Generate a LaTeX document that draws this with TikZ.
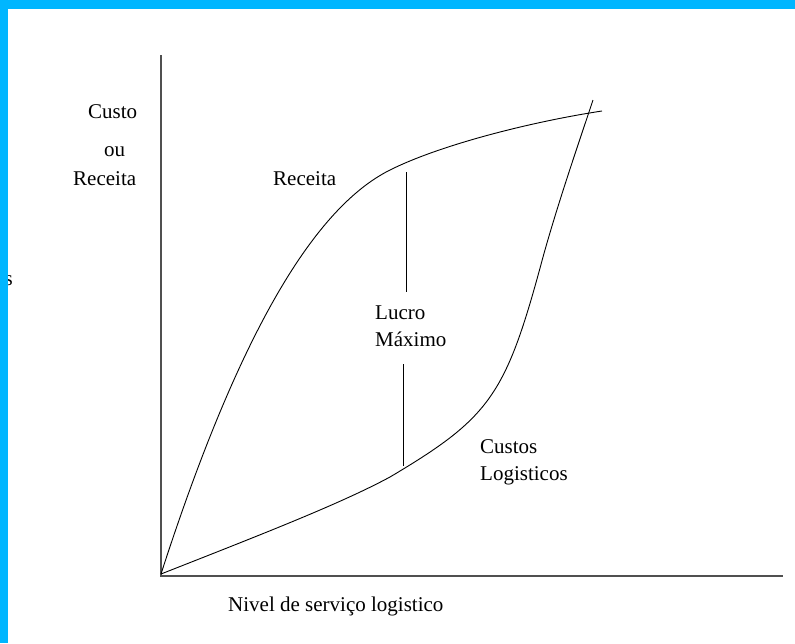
\documentclass[tikz,border=0pt]{standalone}
\usepackage{fontspec}
\setmainfont{Liberation Serif}
\definecolor{moldura}{RGB}{0,182,255}
\definecolor{eixo}{RGB}{80,80,80}
\tikzset{
  rotulo/.style={anchor=base west, inner sep=0pt, font=\fontsize{21}{25}\selectfont},
  curva/.style={line width=0.9pt, black},
  eixos/.style={line width=2pt, eixo}
}
\begin{document}
\begin{tikzpicture}[x=1pt, y=-1pt]
			\useasboundingbox (0,0) rectangle (795,643);
			\fill[white] (0,0) rectangle (795,643);
			
			\coordinate (origem) at (161,574);
			\coordinate (topo) at (161,55);
			\coordinate (fim) at (783,576);
			\coordinate (joelho) at (390,170);
			\coordinate (receitafim) at (602,111);
			\coordinate (custoa) at (390,477);
			\coordinate (custob) at (543,257);
			\coordinate (custofim) at (593,100);
			
			\node[rotulo] (custo) at (88,118) {Custo};
			\node[rotulo] (ou) at (104,156) {ou};
			\node[rotulo] (receitaeixo) at (73,185) {Receita};
			\node[rotulo] (receita) at (273,185) {Receita};
			\node[rotulo] (lucro) at (375,319) {Lucro};
			\node[rotulo] (maximo) at (375,346) {Máximo};
			\node[rotulo] (custos) at (480,453) {Custos};
			\node[rotulo] (logisticos) at (480,480) {Logisticos};
			\node[rotulo] (nivel) at (228,611) {Nivel de serviço logistico};
			\node[rotulo] (resto) at (4.5,285) {s};
			
			\draw[eixos] (topo) -- (origem |- fim) -- (fim);
			
			% receita
			\draw[curva] (origem) .. controls (235,345) and (310,210) .. (joelho)
				.. controls (440,145) and (530,122) .. (receitafim);
			% custos logisticos
			\draw[curva] (origem) .. controls (260,535) and (340,504) .. (custoa)
				.. controls (491,417) and (506,395) .. (custob)
				.. controls (558,203) and (578,145) .. (custofim);
			
			\coordinate (lucroa) at (406,172);
			\coordinate (lucrob) at (406,292);
			\coordinate (lucroc) at (403,364);
			\coordinate (lucrod) at (403,466);
			\draw[curva] (lucroa) -- (lucrob);
			\draw[curva] (lucroc) -- (lucrod);
			
			\fill[moldura] (0,0) rectangle (795,9);
			\fill[moldura] (0,0) rectangle (8,643);
		\end{tikzpicture}
\end{document}
